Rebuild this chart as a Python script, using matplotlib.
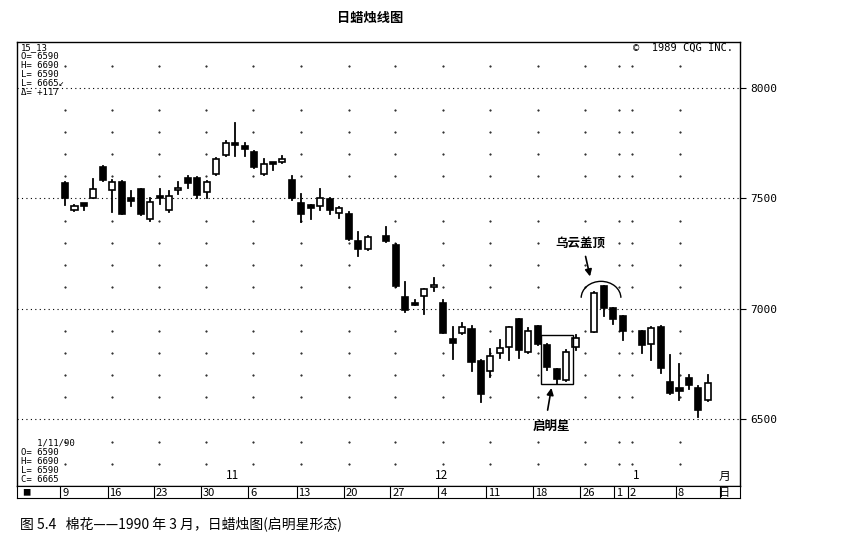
import matplotlib
matplotlib.use("Agg")
import matplotlib.pyplot as plt
from matplotlib.patches import Rectangle, Arc
import numpy as np

plt.rcParams['font.family'] = ['Noto Sans CJK SC', 'DejaVu Sans']

idx = [0,1,2,3,4,5,6,7,8,9,10,11,12,13,14,15,16,17,18,19,20,21,22,23,24,25,26,27,28,29,30,31,32,
       34,35,36,37,38,39,40,41,42,43,44,45,46,47,48,49,50,51,52,53,54,
       56,57,58,59,61,62,63,64,65,66,67,68]
opens = [7571,7448,7474,7504,7641,7538,7576,7500,7543,7406,7511,7448,7538,7594,7594,7530,7610,7697,7750,7737,7712,7610,7660,7667,7584,7481,7467,7466,7496,7433,7430,7308,7270,
         7330,7290,7053,7025,7059,7098,7028,6863,6890,6908,6766,6721,6800,6827,6953,6807,6923,6837,6727,6679,6827,
         6898,7104,7003,6968,6900,6841,6920,6671,6641,6686,6641,6588]
closes = [7500,7467,7472,7543,7584,7576,7430,7490,7428,7486,7500,7511,7547,7569,7516,7576,7679,7750,7742,7722,7641,7656,7658,7679,7500,7430,7460,7501,7448,7458,7315,7270,7324,
          7308,7106,6995,7020,7089,7110,6893,6845,6917,6762,6615,6787,6822,6917,6814,6902,6842,6739,6682,6807,6867,
          7071,7003,6953,6902,6837,6913,6732,6621,6630,6656,6543,6664]
highs = [7575,7470,7474,7588,7645,7584,7580,7534,7545,7500,7543,7534,7575,7600,7598,7580,7682,7760,7840,7750,7715,7680,7662,7690,7600,7520,7470,7545,7500,7460,7440,7350,7330,
         7370,7295,7120,7040,7092,7140,7040,6918,6935,6925,6770,6820,6860,6920,6955,6912,6925,6840,6730,6815,6880,
         7075,7106,7005,6970,6902,6920,6922,6790,6750,6700,6650,6700]
lows = [7470,7445,7448,7500,7580,7440,7428,7466,7425,7400,7475,7440,7520,7546,7500,7500,7605,7690,7690,7692,7638,7606,7630,7660,7495,7393,7406,7450,7430,7410,7312,7240,7265,
        7305,7100,6985,7018,6975,7080,6890,6773,6885,6720,6580,6690,6780,6770,6780,6800,6838,6725,6660,6675,6815,
        6895,6970,6930,6860,6800,6770,6710,6615,6590,6640,6510,6585]

day_labels = ['9','16','23','30','6','13','20','27','4','11','18','26','1','2','8']
day_pos = [0,5,9.9,14.9,19.9,25,30,34.9,40,45,50,55,58.6,60,65.1]
month_labels = ['11','12','1','月']
month_pos = [17.7,39.8,60.4,69.8]
yticks = [6500,7000,7500,8000]

fig = plt.figure(figsize=(8.44,5.47), dpi=100)
ax = fig.add_axes([17/844, 61/547, 723/844, 444/547])
ax.set_xlim(-5.08, 71.4)
ax.set_ylim(6199, 8208)

for i,o,c,h,l in zip(idx,opens,closes,highs,lows):
    ax.plot([i,i],[l,h],color='black',lw=1.3,zorder=2)
    bot, top = min(o,c), max(o,c)
    if top-bot < 8:
        bot -= 4; top += 4
    ax.add_patch(Rectangle((i-0.32,bot),0.64,top-bot,facecolor='black' if c<o else 'white',
                           edgecolor='black',lw=1.2,zorder=3))

for y in yticks:
    ax.axhline(y,color='black',lw=0.8,ls=(0,(1,3)),zorder=1)
for d in day_pos:
    for y in range(6300,8200,100):
        if y % 500:
            ax.plot(d,y,'k.',ms=1.0,zorder=1)

ax.yaxis.tick_right()
ax.set_yticks(yticks)
ax.set_yticklabels([str(v) for v in yticks], fontsize=8, family='DejaVu Sans Mono')
ax.tick_params(axis='y', length=4, direction='out')
ax.set_xticks([])

mono = 'DejaVu Sans Mono'
ax.text(0.005,0.997,"15_13\nO= 6590\nH= 6690\nL= 6590\nL= 6665\u2199\n\u0394= +117",transform=ax.transAxes,
        va='top',ha='left',fontsize=6.5,family=mono,linespacing=1.0)
ax.text(0.005,0.005,"   1/11/90\nO= 6590\nH= 6690\nL= 6590\nC= 6665",transform=ax.transAxes,
        va='bottom',ha='left',fontsize=6.5,family=mono,linespacing=1.0)
ax.text(0.99,0.998,"\u00a9  1989 CQG INC.",transform=ax.transAxes,va='top',ha='right',fontsize=7.5,family=mono)
for m,p in zip(month_labels,month_pos):
    ax.text(p,6215,m,ha='center',va='bottom',fontsize=8.5)

# annotations
ax.add_patch(Rectangle((50.4,6660),3.3,220,fill=False,edgecolor='black',lw=1,zorder=4))
ax.annotate('',xy=(51.5,6655),xytext=(51.0,6530),arrowprops=dict(arrowstyle='-|>',color='black',lw=1.2))
ax.text(51.5,6500,'启明星',ha='center',va='top',fontsize=9,fontweight='bold')
ax.add_patch(Arc((56.7,7050),4.2,150,theta1=15,theta2=165,color='black',lw=1))
ax.annotate('',xy=(55.6,7135),xytext=(55.0,7250),arrowprops=dict(arrowstyle='-|>',color='black',lw=1.2))
ax.text(54.5,7270,'乌云盖顶',ha='center',va='bottom',fontsize=9,fontweight='bold')

for s in ax.spines.values():
    s.set_linewidth(1)

# date strip
sx = fig.add_axes([17/844, 49/547, 723/844, 12/547])
sx.set_xlim(-5.08, 71.4)
sx.set_ylim(0,1)
sx.set_xticks([]); sx.set_yticks([])
for d,lab in zip(day_pos,day_labels):
    sx.axvline(d-0.5,color='black',lw=0.8)
    sx.text(d-0.3,0.45,lab,va='center',ha='left',fontsize=8)
sx.axvline(69.3,color='black',lw=0.8)
sx.text(69.8,0.45,'日',va='center',ha='center',fontsize=8)
sx.text(-4.5,0.45,'■',va='center',ha='left',fontsize=6)

fig.text(370/844,1-18/547,'日蜡烛线图',ha='center',va='center',fontsize=9.5,fontweight='bold')
fig.text(20/844,1-524/547,'图 5.4   棉花——1990 年 3 月，日蜡烛图(启明星形态)',ha='left',va='center',fontsize=10)

fig.savefig('out.png',dpi=100,facecolor='white')
